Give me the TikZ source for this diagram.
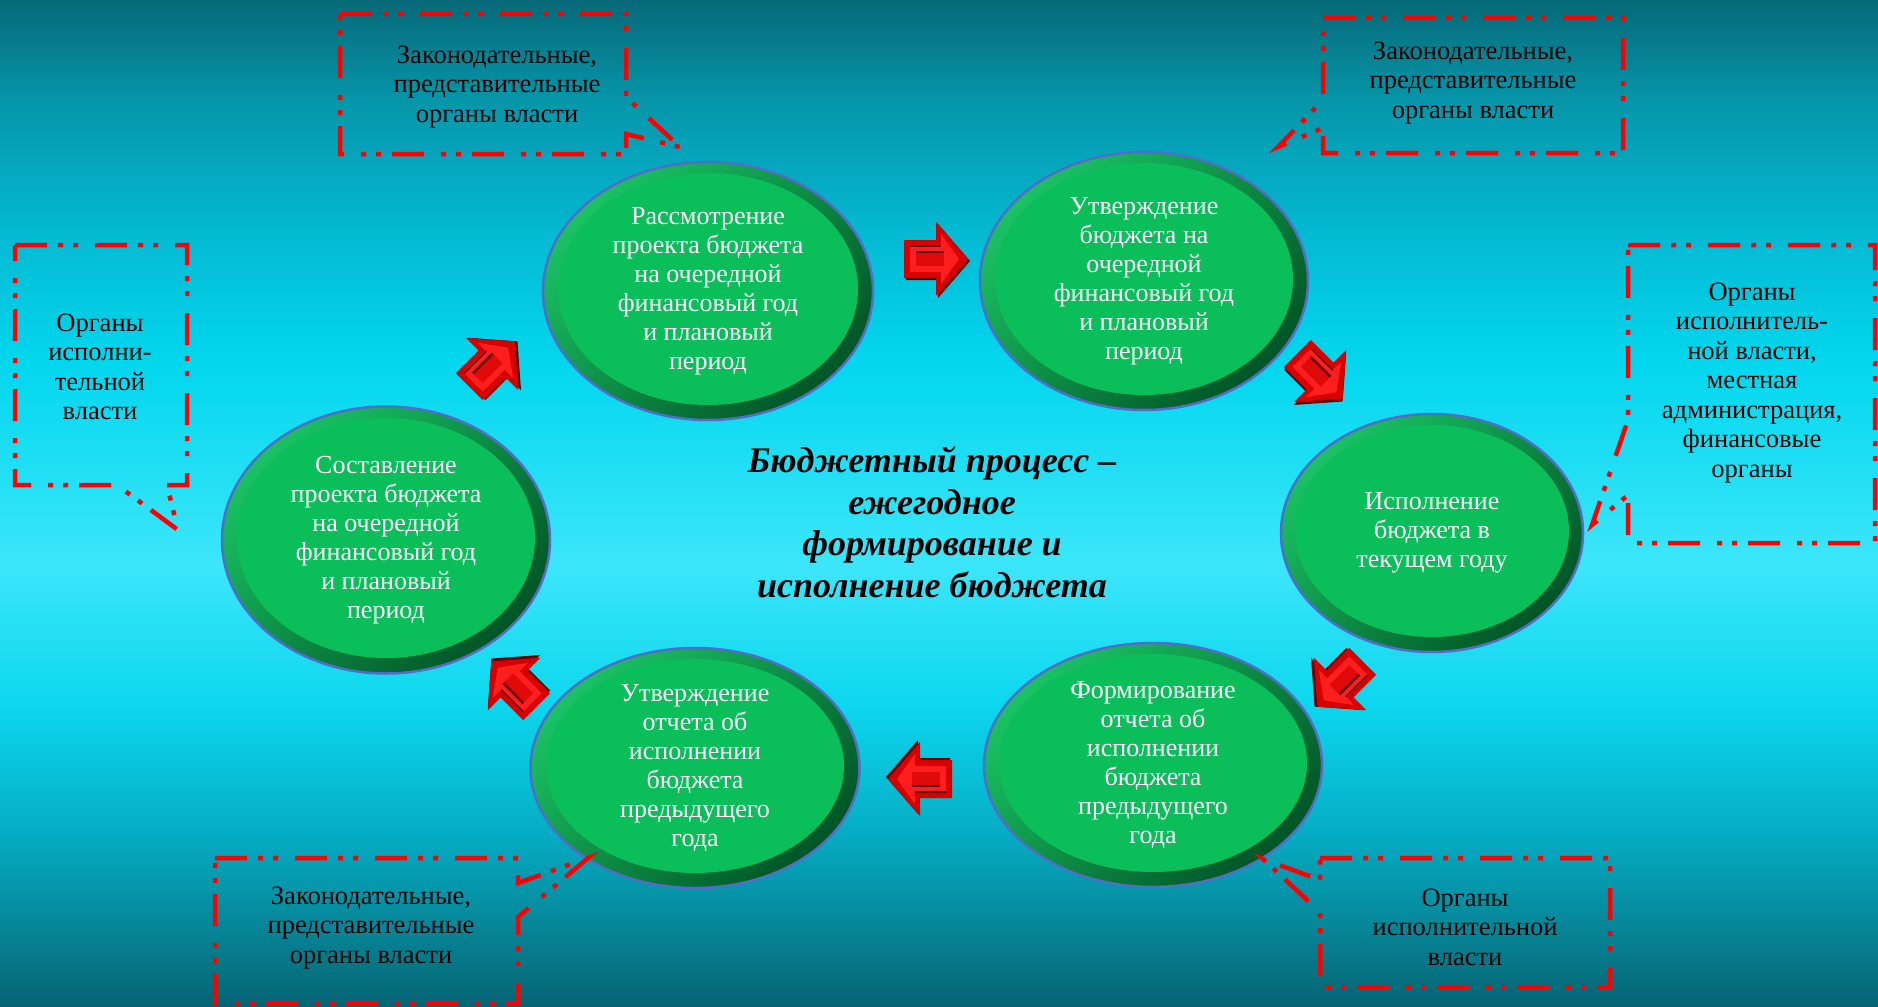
\documentclass[tikz,border=0pt]{standalone}
\usepackage{fontspec}
\setmainfont{Liberation Serif}
\usetikzlibrary{shapes.geometric}
\definecolor{bg0}{RGB}{5,100,115}
\definecolor{bg1}{RGB}{6,122,138}
\definecolor{bg2}{RGB}{5,172,195}
\definecolor{bg3}{RGB}{12,215,238}
\definecolor{bg4}{RGB}{60,230,250}
\definecolor{bg5}{RGB}{2,215,238}
\definecolor{bg6}{RGB}{4,185,210}
\definecolor{bg7}{RGB}{6,150,170}
\definecolor{bg8}{RGB}{6,105,120}
\pgfdeclareverticalshading{bgshade}{100bp}{color(0bp)=(bg0); color(25bp)=(bg0); color(27.5bp)=(bg1); color(33.5bp)=(bg2); color(40bp)=(bg3); color(47bp)=(bg4); color(57bp)=(bg5); color(63.5bp)=(bg6); color(70bp)=(bg7); color(75bp)=(bg8); color(100bp)=(bg8)}
\definecolor{ringblue}{RGB}{80,110,200}
\definecolor{ringtop}{RGB}{25,195,100}
\definecolor{ringbot}{RGB}{0,85,38}
\definecolor{innergreen}{RGB}{10,190,90}
\definecolor{arrouter}{RGB}{215,0,0}
\definecolor{arrinner}{RGB}{255,30,30}
\definecolor{arrgroove}{RGB}{225,10,10}
\definecolor{arrdark}{RGB}{100,0,0}
\definecolor{calred}{RGB}{255,0,0}
\newcommand\budgetarrow[2]{%
  \begin{scope}[shift={#1},rotate=#2]
    \fill[arrdark] (-30,-17) -- (2,-17) -- (2,-35) -- (34,2) -- (2,39) -- (2,21) -- (-30,21) -- cycle;
    \fill[arrouter] (-32,-19) -- (0,-19) -- (0,-37) -- (32,0) -- (0,37) -- (0,19) -- (-32,19) -- cycle;
    \fill[arrinner] (-26,-13) -- (5,-13) -- (5,-25) -- (23,0) -- (5,25) -- (5,13) -- (-26,13) -- cycle;
    \fill[arrgroove] (-20,-7) rectangle (8,7);
    \draw[arrdark, line width=2.5pt] (-20,-7) -- (8,-7);
    \draw[arrdark, line width=1.5pt] (-26,-13) -- (5,-13);
  \end{scope}}
\tikzset{
  ring/.style n args={2}{ellipse, draw=ringblue, line width=2.5pt,
    top color=ringtop, bottom color=ringbot, shading angle=45, inner sep=0pt,
    path picture={\fill[innergreen] ([yshift=2pt]path picture bounding box.center) ellipse (#1 and #2);}},
  elltext/.style={text=white, align=center, font=\fontsize{26}{29}\selectfont, inner sep=0pt},
  caltext/.style={text=black, align=center, font=\fontsize{26.5}{29.5}\selectfont, inner sep=0pt},
  callout/.style={draw=calred, line width=4.5pt, line join=miter,
    dash pattern=on 32pt off 11pt on 5pt off 10pt on 5pt off 17pt},
}
\begin{document}
\begin{tikzpicture}[x=1pt,y=-1pt]
\useasboundingbox (0,0) rectangle (1878,1006);
\shade[shading=bgshade] (0,0) rectangle (1878,1006);

% ellipses
\node[ring={150}{116}, minimum width=330, minimum height=258] (e1) at (708,291) {};
\node[ring={149}{116}, minimum width=328, minimum height=258] (e2) at (1144,281) {};
\node[ring={137}{106}, minimum width=302, minimum height=238] (e3) at (1432,533) {};
\node[ring={154}{109}, minimum width=338, minimum height=244] (e4) at (1153,765) {};
\node[ring={149}{107}, minimum width=329, minimum height=240] (e5) at (695,768) {};
\node[ring={149}{120}, minimum width=328, minimum height=267] (e6) at (386,540) {};

\node[elltext] (t1) at (e1.center) {Рассмотрение\\проекта бюджета\\на очередной\\финансовый год\\и плановый\\период};
\node[elltext] (t2) at (e2.center) {Утверждение\\бюджета на\\очередной\\финансовый год\\и плановый\\период};
\node[elltext] (t3) at (e3.center) {Исполнение\\бюджета в\\текущем году};
\node[elltext] (t4) at (e4.center) {Формирование\\отчета об\\исполнении\\бюджета\\предыдущего\\года};
\node[elltext] (t5) at (e5.center) {Утверждение\\отчета об\\исполнении\\бюджета\\предыдущего\\года};
\node[elltext] (t6) at (e6.center) {Составление\\проекта бюджета\\на очередной\\финансовый год\\и плановый\\период};

% block arrows
\budgetarrow{(492,364)}{45}
\budgetarrow{(936,259)}{0}
\budgetarrow{(1320,376)}{-45}
\budgetarrow{(1340,684)}{-135}
\budgetarrow{(920,779)}{180}
\budgetarrow{(514,684)}{135}

% title
\node[font=\bfseries\itshape\fontsize{36}{41.5}\selectfont, align=center, inner sep=0pt] (title) at (932,522) {Бюджетный процесс –\\ежегодное\\формирование и\\исполнение бюджета};

% callouts
\coordinate (pA) at (680,147);
\coordinate (pB) at (1278,147);
\coordinate (pC) at (178,530);
\coordinate (pD) at (1592,525);
\coordinate (pE) at (588,858);
\coordinate (pF) at (1263,859);
\draw[callout] (340,14) -- (626,14) -- (626,97) -- (pA) -- (626,134) -- (626,154) -- (340,154) -- cycle;
\draw[callout] (1323,18) -- (1623,18) -- (1623,153) -- (1323,153) -- (1323,128) -- (pB) -- (1323,100) -- cycle;
\draw[callout] (15,245) -- (187,245) -- (187,485) -- (167,485) -- (pC) -- (117,485) -- (15,485) -- cycle;
\draw[callout] (1628,245) -- (1875,245) -- (1875,543) -- (1628,543) -- (1628,495) -- (pD) -- (1628,420) -- cycle;
\draw[callout] (215,858) -- (518,858) -- (518,883) -- (pE) -- (518,917) -- (518,1003) -- (215,1003) -- cycle;
\draw[callout] (1320,858) -- (1610,858) -- (1610,987) -- (1320,987) -- (1320,912) -- (pF) -- (1320,880) -- cycle;

\node[caltext] (cA) at (497,87) {Законодательные,\\представительные\\органы власти};
\node[caltext] (cB) at (1473,83) {Законодательные,\\представительные\\органы власти};
\node[caltext] (cC) at (100,367) {Органы\\исполни-\\тельной\\власти};
\node[caltext] (cD) at (1752,383) {Органы\\исполнитель-\\ной власти,\\местная\\администрация,\\финансовые\\органы};
\node[caltext] (cE) at (371,928) {Законодательные,\\представительные\\органы власти};
\node[caltext] (cF) at (1465,927) {Органы\\исполнительной\\власти};
\end{tikzpicture}
\end{document}
